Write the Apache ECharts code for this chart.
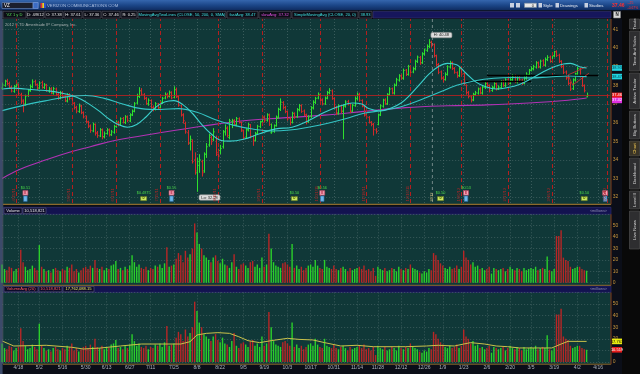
<!DOCTYPE html>
<html><head><meta charset="utf-8">
<script src="https://cdn.jsdelivr.net/npm/echarts/dist/echarts.min.js"></script>
<style>html,body{margin:0;padding:0;background:#0b0e18;}#c{width:640px;height:374px;}</style>
</head><body><div id="c"></div>
<script>
const FONT = '"Liberation Sans", Arial, sans-serif';
// ---------------- DATA ----------------
const holidays = ['2011-04-22','2011-05-30','2011-07-04','2011-09-05','2011-11-24','2011-12-26','2012-01-02','2012-01-16','2012-02-20','2012-04-06'];
const firstDay = '2011-04-07', lastAxisDay = '2012-04-23';
const opens = [37.85,38.00,38.25,38.08,37.90,37.68,37.95,38.05,37.50,37.20,
37.00,37.45,37.72,37.92,38.20,38.02,37.85,38.15,37.88,38.00,
37.70,37.82,37.58,37.80,37.52,37.30,37.60,37.42,37.15,37.48,
37.28,37.05,36.82,36.60,36.88,36.55,36.30,36.05,35.82,35.55,
35.90,35.45,35.28,35.60,35.25,35.42,35.60,35.35,35.48,35.80,
36.00,35.92,36.22,36.00,36.30,36.10,36.42,36.60,37.05,37.40,
37.72,37.50,37.30,37.00,37.18,36.80,36.72,37.00,36.80,37.08,
37.32,37.50,37.42,37.60,37.35,37.75,37.38,36.90,36.42,35.95,
35.45,34.90,35.00,34.00,33.30,33.70,33.90,33.40,34.30,34.80,
35.20,35.10,35.20,34.30,34.50,34.70,35.50,35.70,35.20,36.05,
36.12,35.88,36.20,36.00,35.55,35.22,35.60,35.88,35.25,35.05,
35.42,35.78,36.05,36.28,36.12,36.40,35.45,35.52,35.85,36.28,
36.70,37.08,36.82,36.58,36.22,36.02,36.48,36.32,36.68,36.92,
36.62,36.40,36.05,36.32,36.78,37.08,37.32,37.50,37.22,37.00,
37.32,37.60,37.70,37.28,36.82,36.50,36.88,36.62,36.88,37.12,
37.00,36.62,36.90,37.28,37.52,37.18,36.88,36.42,36.28,36.00,
35.92,35.60,35.90,36.42,36.88,37.22,37.00,37.52,37.82,37.58,
38.00,38.28,38.52,38.38,38.82,38.58,39.00,38.72,38.88,39.28,
39.50,39.22,39.68,39.88,40.08,40.32,40.20,39.58,39.12,38.72,
38.38,38.32,38.58,38.98,39.22,38.92,38.68,38.52,38.88,38.62,
38.00,37.62,37.38,37.22,37.52,37.58,37.82,37.58,37.88,38.12,
37.98,37.72,37.88,38.08,37.82,37.88,38.22,37.98,38.32,38.12,
38.28,38.52,38.18,38.42,38.28,38.12,38.38,38.58,38.82,38.88,
38.98,39.22,38.98,39.32,39.08,39.38,39.52,39.28,39.58,39.82,
39.62,39.28,39.02,38.72,38.42,38.12,37.82,38.28,38.62,38.88,
38.48,37.98,37.38];
const highs = [38.15,38.30,38.35,38.20,37.98,38.02,38.25,38.10,37.60,37.25,
37.50,37.80,38.05,38.32,38.30,38.10,38.22,38.25,38.12,38.08,
37.92,37.90,37.92,37.88,37.60,37.70,37.68,37.50,37.58,37.58,
37.35,37.10,36.90,37.02,36.95,36.60,36.38,36.10,35.90,36.00,
35.95,35.55,35.70,35.68,35.52,35.70,35.68,35.60,35.88,36.12,
36.10,36.28,36.30,36.40,36.38,36.50,36.70,37.10,37.55,37.90,
37.85,37.58,37.38,37.30,37.25,36.92,37.10,37.05,37.20,37.38,
37.62,37.60,37.72,37.68,37.95,37.88,37.45,36.98,36.50,36.05,
35.60,35.30,35.10,34.40,34.10,34.30,34.00,34.40,34.90,35.40,
35.30,35.70,35.30,34.60,34.80,35.60,35.90,35.80,36.20,36.20,
36.18,36.30,36.28,36.05,35.62,35.70,35.98,35.92,35.32,35.50,
35.88,36.10,36.40,36.35,36.50,36.48,35.95,35.90,36.38,36.80,
37.30,37.15,36.90,36.65,36.30,36.58,36.55,36.78,37.00,36.98,
36.70,36.48,36.40,36.88,37.20,37.38,37.62,37.58,37.30,37.40,
37.70,37.85,37.78,37.35,36.90,36.98,36.95,36.98,37.20,37.22,
37.05,37.00,37.40,37.62,37.60,37.25,36.95,36.50,36.35,36.08,
35.98,35.70,36.48,36.98,37.28,37.30,37.58,37.90,37.88,38.10,
38.40,38.60,38.60,38.90,38.88,39.10,39.08,38.98,39.38,39.60,
39.58,39.78,39.98,40.20,40.48,40.40,40.25,39.65,39.20,38.80,
38.50,38.70,39.08,39.32,39.28,38.98,38.75,38.98,38.95,38.70,
38.05,37.70,37.45,37.60,37.70,37.88,37.90,37.98,38.20,38.18,
38.05,37.98,38.20,38.15,38.00,38.28,38.30,38.38,38.40,38.40,
38.60,38.58,38.48,38.50,38.35,38.48,38.70,38.88,39.02,39.10,
39.30,39.28,39.38,39.40,39.50,39.62,39.60,39.70,39.85,39.88,
39.70,39.35,39.10,38.80,38.50,38.20,38.38,38.68,39.00,38.95,
38.55,38.05,37.61];
const lows = [37.75,37.92,38.00,37.80,37.62,37.60,37.88,37.45,37.00,36.55,
36.90,37.38,37.65,37.85,37.98,37.75,37.80,37.82,37.80,37.65,
37.60,37.52,37.50,37.42,37.22,37.25,37.30,37.10,37.08,37.20,
36.92,36.70,36.50,36.52,36.45,36.22,35.95,35.70,35.45,35.48,
35.30,35.18,35.22,35.10,35.15,35.35,35.25,35.28,35.40,35.72,
35.80,35.85,35.95,35.92,36.02,36.02,36.35,36.55,36.98,37.32,
37.45,37.22,36.95,36.90,36.75,36.60,36.65,36.70,36.72,37.00,
37.25,37.30,37.35,37.25,37.30,37.32,36.85,36.32,35.95,35.40,
34.80,34.50,33.80,33.20,32.28,33.30,33.10,33.30,34.10,34.70,
34.80,35.00,34.20,34.00,34.30,34.60,35.30,35.20,35.10,35.70,
35.82,35.80,35.95,35.50,35.10,35.15,35.52,35.15,34.75,34.98,
35.35,35.70,35.95,36.00,36.05,35.82,35.40,35.45,35.78,36.20,
36.62,36.70,36.50,36.10,35.85,35.95,36.20,36.25,36.60,36.52,
36.35,35.90,35.98,36.25,36.70,37.00,37.25,37.12,36.92,36.95,
37.25,37.52,37.22,36.72,36.40,36.42,36.50,35.10,36.80,36.92,
36.50,36.55,36.85,37.20,37.12,36.82,36.32,36.18,35.95,35.80,
35.30,35.40,35.85,36.35,36.80,36.95,36.95,37.45,37.52,37.50,
37.95,38.20,38.30,38.30,38.50,38.52,38.62,38.65,38.80,39.20,
39.10,39.15,39.60,39.80,40.00,40.02,39.50,39.00,38.60,38.30,
38.15,38.25,38.52,38.90,38.82,38.62,38.40,38.45,38.52,38.00,
37.50,37.30,37.08,37.15,37.45,37.50,37.52,37.50,37.80,37.90,
37.62,37.65,37.80,37.72,37.75,37.82,37.92,37.90,38.02,38.05,
38.20,38.12,38.10,38.22,38.02,38.05,38.30,38.50,38.75,38.80,
38.90,38.92,38.90,39.02,39.00,39.30,39.22,39.20,39.50,39.52,
39.20,38.92,38.60,38.30,38.00,37.70,37.75,38.20,38.55,38.42,
37.92,37.62,37.36];
const closes = [38.02,38.21,38.10,37.88,37.70,37.93,38.12,37.55,37.12,36.95,
37.42,37.70,37.95,38.18,38.05,37.86,38.12,37.90,38.03,37.72,
37.80,37.60,37.82,37.50,37.31,37.58,37.40,37.18,37.47,37.30,
37.02,36.80,36.62,36.90,36.52,36.31,36.02,35.80,35.58,35.91,
35.42,35.30,35.62,35.22,35.40,35.61,35.33,35.50,35.78,36.02,
35.90,36.20,36.02,36.31,36.12,36.40,36.62,37.01,37.42,37.70,
37.52,37.31,37.02,37.20,36.82,36.70,37.01,36.78,37.10,37.30,
37.52,37.40,37.63,37.32,37.78,37.40,36.92,36.40,36.10,35.50,
34.90,35.10,33.90,33.40,33.90,34.00,33.30,34.30,34.70,35.30,
35.00,35.50,34.40,34.20,34.60,35.50,35.70,35.30,36.10,36.10,
35.90,36.21,36.02,35.60,35.20,35.62,35.90,35.28,35.02,35.40,
35.80,36.02,36.30,36.10,36.42,35.90,35.50,35.82,36.30,36.72,
37.10,36.80,36.60,36.20,36.00,36.50,36.30,36.70,36.90,36.60,
36.42,36.02,36.30,36.80,37.10,37.30,37.52,37.20,37.02,37.30,
37.62,37.72,37.30,36.80,36.52,36.90,36.60,36.90,37.10,37.02,
36.60,36.92,37.30,37.50,37.20,36.90,36.40,36.30,36.02,35.90,
35.62,35.52,36.40,36.90,37.20,37.02,37.50,37.80,37.60,38.02,
38.30,38.50,38.40,38.80,38.60,39.02,38.70,38.90,39.30,39.52,
39.20,39.70,39.90,40.10,40.30,40.12,39.60,39.10,38.70,38.40,
38.30,38.60,39.00,39.20,38.90,38.70,38.50,38.90,38.60,38.10,
37.60,37.40,37.20,37.50,37.60,37.80,37.60,37.90,38.10,38.00,
37.70,37.90,38.10,37.80,37.90,38.20,38.00,38.30,38.10,38.30,
38.50,38.20,38.40,38.30,38.10,38.40,38.60,38.80,38.90,39.00,
39.20,39.00,39.30,39.10,39.40,39.50,39.30,39.60,39.80,39.60,
39.30,39.00,38.70,38.40,38.10,37.80,38.30,38.60,38.90,38.50,
38.00,37.71,37.46];
const volumes = [16,12,11,14,13,10,12,13,29,18,
14,11,12,15,13,11,33,14,12,10,
11,9,12,13,11,10,12,11,14,13,
16,10,12,9,11,13,14,12,15,13,
20,13,12,14,11,13,12,15,16,19,
12,13,11,14,12,15,24,18,14,16,
13,12,14,11,13,12,15,14,16,13,
17,31,14,15,16,21,26,24,18,28,
22,25,30,52,44,34,30,24,22,20,
18,22,24,19,17,21,16,15,13,18,
25,14,12,16,17,15,13,18,19,14,
16,13,22,14,16,43,30,18,15,14,
13,17,18,16,14,34,13,15,12,14,
11,13,15,16,14,20,15,13,12,20,
14,13,12,15,12,11,13,14,12,10,
13,11,12,13,14,12,15,11,12,10,
13,6,14,12,11,13,10,11,13,12,
10,14,12,11,13,12,16,13,12,11,
9,8,10,9,12,11,26,24,20,17,
15,13,12,14,12,13,15,12,14,28,
22,20,16,18,14,15,12,13,11,12,
14,8,13,12,11,12,13,10,12,14,
12,11,13,12,10,13,11,12,13,12,
14,11,12,13,12,23,11,10,12,41,
41,46,22,20,19,14,12,13,14,14,
12,11,10.52];
// moving averages: [bar index, value]
const sma20Pts = [[0,37.8],[5,37.85],[10,37.8],[15,37.75],[20,37.7],[25,37.6],[30,37.45],[34,37.25],[38,36.95],[42,36.6],[46,36.2],[50,35.9],[54,35.75],[58,35.9],[62,36.3],[66,36.8],[70,37.1],[74,37.18],[78,36.95],[82,36.5],[86,35.9],[90,35.4],[94,35.05],[98,35.0],[104,35.1],[111,35.4],[118,35.66],[125,35.75],[132,36.1],[139,36.55],[146,36.9],[151,37.05],[155,37.0],[158,36.75],[163,36.62],[168,36.8],[172,37.05],[176,37.5],[180,38.05],[184,38.6],[188,39.0],[192,39.18],[196,39.1],[200,38.65],[204,38.2],[208,37.95],[213,37.8],[218,37.88],[223,38.05],[228,38.35],[233,38.7],[238,39.0],[242,39.15],[245,39.18],[249,39.0],[252,38.93]];
const sma50Pts = [[0,36.64],[10,36.95],[20,37.2],[30,37.42],[36,37.45],[44,37.3],[52,37.0],[60,36.75],[68,36.7],[76,36.75],[84,36.55],[92,36.15],[100,35.85],[108,35.65],[116,35.55],[124,35.6],[132,35.75],[140,35.95],[148,36.2],[156,36.5],[164,36.65],[172,36.85],[180,37.2],[188,37.6],[196,38.0],[204,38.25],[212,38.38],[220,38.42],[228,38.4],[236,38.45],[244,38.5],[252,38.47]];
const sma200Pts = [[0,33.0],[8,33.5],[19,34.0],[29,34.4],[38,34.7],[49,35.05],[68,35.45],[86,35.8],[104,36.1],[121,36.25],[139,36.4],[156,36.6],[174,36.8],[192,36.9],[209,36.95],[227,37.05],[244,37.2],[252,37.32]];
const volAvgPts = [[0,18.1],[5,13.8],[19,14.4],[30,12.7],[35,11.2],[42,12.0],[51,13.8],[60,15.5],[68,15.5],[77,15.5],[81,17.5],[84,23.3],[88,24.7],[93,25.3],[98,24.7],[102,21.8],[106,18.4],[111,16.7],[116,18.4],[123,20.4],[128,19.5],[134,19.0],[139,16.7],[146,13.8],[153,14.4],[160,13.2],[174,13.2],[183,13.8],[188,14.4],[195,13.8],[199,15.5],[202,16.7],[208,15.5],[213,13.8],[218,13.2],[223,12.1],[232,12.1],[237,12.1],[241,15.5],[244,17.8],[252,17.76]];
const tickDates = ['2011-04-18','2011-05-02','2011-05-16','2011-05-30','2011-06-13','2011-06-27','2011-07-11','2011-07-25','2011-08-08','2011-08-22','2011-09-05','2011-09-19','2011-10-03','2011-10-17','2011-10-31','2011-11-14','2011-11-28','2011-12-12','2011-12-26','2012-01-09','2012-01-23','2012-02-06','2012-02-20','2012-03-05','2012-03-19','2012-04-02','2012-04-16'];
const expiryDates = ['2011-04-15','2011-05-20','2011-06-17','2011-07-15','2011-08-19','2011-09-16','2011-10-21','2011-11-18','2011-12-16','2012-01-20','2012-02-17','2012-03-16','2012-04-20'];
const earningsDates = ['2011-04-21','2011-07-22','2011-10-24','2012-01-24','2012-04-19'];
const earningsText = ['$0.51','$0.55','$0.56','$0.53',''];
const dividendDates = ['2011-07-06','2011-10-06','2012-01-06','2012-04-05'];
const dividendText = ['$0.4875','$0.50','$0.50','$0.50'];
const lastPrice = 37.46, fastAvg = 38.47, slowAvg = 37.32, sma20Last = 38.93;
const volAvgLast = 17.763, volLast = 10.519;
const highMark = {date:'2011-12-29', value:40.48}, lowMark = {date:'2011-08-08', value:32.28};
const drawLinesBlack = [[['2012-01-24',38.24],['2012-03-05',38.24]],[['2012-02-06',38.56],['2012-04-16',38.56]]];
const drawLinesRed = [[['2012-03-27',38.56],['2012-04-09',39.0]],[['2012-03-29',38.02],['2012-04-10',38.65]],[['2012-03-27',38.56],['2012-03-29',38.02]]];

// ---------------- BUILD ----------------
const dates = [];
{ let d = new Date(firstDay + 'T00:00:00Z'); const end = new Date(lastAxisDay + 'T00:00:00Z');
  while (d <= end) { const wd = d.getUTCDay(); const s = d.toISOString().slice(0,10);
    if (wd !== 0 && wd !== 6 && holidays.indexOf(s) < 0) dates.push(s);
    d = new Date(d.getTime() + 86400000); } }
const idxOf = s => { for (let i = 0; i < dates.length; i++) if (dates[i] >= s) return i; return dates.length - 1; };
const md = s => (+s.slice(5,7)) + '/' + (+s.slice(8,10));
const mdy = s => md(s) + '/' + s.slice(2,4);
const tickText = {}; tickDates.forEach(t => { tickText[idxOf(t)] = md(t); });
const isTick = i => tickText[i] !== undefined;

const GREEN = '#2ee02e', RED = '#d22a2a', VGREEN = '#2bcf2b', VRED = '#b82626';
const PANEL = '#103838', GRIDC = '#4c6a6a', AXC = '#c8963c';
const ohlc = closes.map((c, i) => [i, opens[i], highs[i], lows[i], c]);
const volData = volumes.map((v, i) => ({ value: v, itemStyle: { color: closes[i] >= opens[i] ? VGREEN : VRED } }));

const GL = 2.2, GR = 30.2;
function xAx(g, labels) {
  return { type: 'category', gridIndex: g, data: dates, boundaryGap: false,
    axisLine: { show: false }, axisTick: { show: false },
    axisLabel: { show: labels, interval: (i) => isTick(i), formatter: (v, i) => tickText[i] || '',
      color: '#aab2ba', fontSize: 5, fontFamily: FONT, margin: 3 },
    splitLine: { show: g !== 1, interval: (i) => isTick(i), lineStyle: { color: GRIDC, type: [1, 2], width: 0.7 } } };
}
function yAx(g, min, max, show) {
  return { type: 'value', gridIndex: g, min, max, interval: show ? 10 : undefined, position: 'right',
    axisLine: { show: false }, axisTick: { show: false },
    axisLabel: { show, color: AXC, fontSize: 5, fontFamily: FONT, margin: 3, showMaxLabel: false },
    splitLine: { show, lineStyle: { color: GRIDC, type: [1, 2], width: 0.7 } } };
}
const mk = (pts) => pts.map(p => ({ coord: [idxOf(p[0]), p[1]] }));
const markData = [].concat(
  expiryDates.map(d => ({ xAxis: idxOf(d), lineStyle: { color: '#b41e1e', type: [4, 3], width: 1 } })),
  [{ yAxis: lastPrice, lineStyle: { color: '#c42020', type: 'solid', width: 0.8 } }],
  drawLinesBlack.map(l => mk(l).map(o => Object.assign(o, { lineStyle: { color: '#000000', type: 'solid', width: 1.3 } }))),
  drawLinesRed.map(l => mk(l).map(o => Object.assign(o, { lineStyle: { color: '#d83030', type: 'solid', width: 0.8 } })))
);

const option = {
  animation: false, backgroundColor: '#0b0e18',
  grid: [
    { left: GL, right: GR, top: 19, height: 184 },
    { left: GL, right: GR, top: 29.5, height: 167.5 },
    { left: GL, right: GR, top: 214.3, height: 68.4 },
    { left: GL, right: GR, top: 292.4, height: 69.6 }
  ],
  xAxis: [xAx(0, false), Object.assign(xAx(1, false), { show: false }), xAx(2, false), xAx(3, true)],
  yAxis: [
    { type: 'value', gridIndex: 0, min: 31.678, max: 41.564, show: false, splitLine: { show: false } },
    Object.assign(yAx(1, 32, 41, true), { interval: 1, axisLabel: { color: AXC, fontSize: 5, fontFamily: FONT, margin: 3 } }),
    yAx(2, 0, 60, true),
    yAx(3, 0, 60, true)
  ],
  series: [
    { type: 'line', name: 'sma200', xAxisIndex: 0, yAxisIndex: 0, data: sma200Pts, smooth: 0.4, symbol: 'none',
      lineStyle: { color: '#b232b4', width: 1.1 }, z: 3,
      markLine: { silent: true, symbol: ['none', 'none'], label: { show: false }, data: markData } },
    { type: 'custom', name: 'ohlc', xAxisIndex: 0, yAxisIndex: 0, data: ohlc, z: 4,
      encode: { x: 0, y: [1, 2, 3, 4] },
      renderItem: (params, api) => {
        const i = api.value(0), o = api.value(1), h = api.value(2), l = api.value(3), c = api.value(4);
        const pH = api.coord([i, h]), pL = api.coord([i, l]), pO = api.coord([i, o]), pC = api.coord([i, c]);
        const x = Math.round(pH[0]) + 0.5;
        const col = c >= o ? GREEN : RED;
        const st = { stroke: col, lineWidth: 1 };
        return { type: 'group', children: [
          { type: 'line', shape: { x1: x, y1: pH[1], x2: x, y2: pL[1] }, style: st },
          { type: 'line', shape: { x1: x - 1.2, y1: pO[1], x2: x, y2: pO[1] }, style: st },
          { type: 'line', shape: { x1: x, y1: pC[1], x2: x + 1.2, y2: pC[1] }, style: st } ] };
      } },
    { type: 'line', name: 'sma50', xAxisIndex: 0, yAxisIndex: 0, data: sma50Pts, smooth: 0.4, symbol: 'none',
      lineStyle: { color: '#34c4c4', width: 1.1 }, z: 5 },
    { type: 'line', name: 'sma20', xAxisIndex: 0, yAxisIndex: 0, data: sma20Pts, smooth: 0.4, symbol: 'none',
      lineStyle: { color: '#3ad0cc', width: 1.1 }, z: 5 },
    { type: 'bar', xAxisIndex: 2, yAxisIndex: 2, data: volData, barWidth: 1.4, z: 3 },
    { type: 'bar', xAxisIndex: 3, yAxisIndex: 3, data: volData, barWidth: 1.4, z: 3 },
    { type: 'line', xAxisIndex: 3, yAxisIndex: 3, data: volAvgPts, symbol: 'none', lineStyle: { color: '#c9c24a', width: 1 }, z: 5 }
  ]
};
const chart = echarts.init(document.getElementById('c'), null, { renderer: 'canvas', width: 640, height: 374 });
chart.setOption(option);

// ---------------- DECORATION ----------------
const px = i => chart.convertToPixel({ xAxisIndex: 0 }, i);
const py = v => chart.convertToPixel({ yAxisIndex: 0 }, v);
const pyA = v => chart.convertToPixel({ yAxisIndex: 3 }, v);
const G = [];
const rect = (x, y, w, h, fill, stroke, z, extra) => G.push(Object.assign({ type: 'rect', shape: { x, y, width: w, height: h }, style: { fill, stroke: stroke || null, lineWidth: 0.6 }, z: z == null ? -10 : z, silent: true }, extra || {}));
const text = (x, y, t, fill, size, align, z, rot, weight) => G.push({ type: 'text', x, y, rotation: rot || 0, z: z == null ? 50 : z, silent: true,
  style: { text: t, fill, font: (weight || 'normal') + ' ' + size + 'px ' + FONT, align: align || 'left', verticalAlign: 'middle', textAlign: align || 'left', textVerticalAlign: 'middle' } });
const line = (x1, y1, x2, y2, stroke, w, dash, z) => G.push({ type: 'line', shape: { x1, y1, x2, y2 }, style: { stroke, lineWidth: w, lineDash: dash || null }, z: z == null ? 1 : z, silent: true });

// top header
G.push({ type: 'rect', shape: { x: 0, y: 0, width: 640, height: 10.5 }, z: -10, silent: true,
  style: { fill: new echarts.graphic.LinearGradient(0, 0, 0, 1, [{ offset: 0, color: '#3566ae' }, { offset: 0.5, color: '#1c4688' }, { offset: 1, color: '#0e2a5e' }]) } });
rect(2, 2.5, 31, 6, '#1b1f2e', '#6d8cc0', 1);
text(4, 5.6, 'VZ', '#ffffff', 4.5, 'left');
rect(33.2, 2.5, 5, 6, '#3c6cc4', '#86a6e0', 1);
rect(40.5, 3, 1.8, 5, '#e03030', null, 1); rect(42.3, 3, 1.8, 5, '#f0d020', null, 1); rect(44.1, 3, 1.8, 5, '#3050d0', null, 1);
text(47, 5.8, 'VERIZON COMMUNICATIONS COM', '#a8bce0', 4.3, 'left');
rect(510, 3, 4, 4.5, '#c8d0e0', null, 1); rect(516, 3, 4, 4.5, '#c8d0e0', null, 1);
rect(524.5, 3.2, 12, 4.2, '#e8e8e8', '#8090a0', 1); text(534, 5.4, '0', '#202020', 4, 'right');
rect(538.5, 3, 3.5, 4.5, '#c8d0e0', null, 1); text(543, 5.4, 'Style', '#e8ecf4', 4.3, 'left');
rect(555.5, 3, 3.5, 4.5, '#c8d0e0', null, 1); text(560, 5.4, 'Drawings', '#e8ecf4', 4.3, 'left');
rect(584.5, 3, 3.5, 4.5, '#c8d0e0', null, 1); text(589, 5.4, 'Studies', '#e8ecf4', 4.3, 'left');
text(612, 5.6, '37.46', '#ff3030', 5, 'left', 50, 0, 'bold');
text(627.5, 3.4, '-.25', '#ff3030', 3.4, 'left'); text(627.5, 7.6, '-0.67%', '#ff3030', 3.4, 'left');

// status line
rect(0, 10.5, 640, 8.5, '#05060c');
const boxes = [[3, 23, 'VZ 1 y D', '#58e058'], [27, 17, 'D: 4/9/12', '#e8e8e8'], [45, 18, 'O: 37.38', '#e8e8e8'], [64, 18, 'H: 37.61', '#e8e8e8'],
  [83, 18, 'L: 37.36', '#e8e8e8'], [102, 18, 'C: 37.46', '#e8e8e8'], [121, 16, 'R: 0.25', '#e8e8e8'],
  [138, 88, 'MovingAvgTwoLines (CLOSE, 50, 200, 0, SMA)', '#3ee0e0'], [227, 31, 'fastAvg: 38.47', '#3ee0e0'], [259, 32, 'slowAvg: 37.32', '#e050e0'],
  [292, 66, 'SimpleMovingAvg (CLOSE, 20, 0)', '#3ee0e0'], [359, 13, '38.93', '#3ee0e0']];
boxes.forEach(b => { rect(b[0], 11.3, b[1], 6.8, '#0c0d16', '#5a5a6a', 1); text(b[0] + b[1] / 2, 14.8, b[2], b[3], 4.1, 'center'); });
rect(373, 11.3, 238, 6.8, '#16165c', '#3a3a70', 1);
rect(613.5, 11.5, 7, 6.5, '#d8d8d8', '#808080', 1); text(617, 14.9, 'N', '#202020', 4.5, 'center', 51, 0, 'bold');

// left strip & right strip
rect(0, 10.5, 2.6, 364, '#3c4a6a');
rect(622, 10.5, 18, 364, '#090909');
const tabs = [[19, 29, 'Trade'], [31, 71, 'Time And Sales'], [73, 109, 'Active Trader'], [111, 139, 'Big Buttons'], [141, 156, 'Chart'], [158, 189, 'Dashboard'], [191, 209, 'Level II'], [211, 249, 'Live News']];
tabs.forEach(t => { rect(629.5, t[0], 10, t[1] - t[0], t[2] === 'Chart' ? '#3a3426' : '#2e2e30', '#555', 1);
  text(634.5, (t[0] + t[1]) / 2, t[2], t[2] === 'Chart' ? '#e8c050' : '#d0d0d0', 4.3, 'center', 51, Math.PI / 2); });

// panels
rect(3, 19, 608, 185, PANEL);
rect(3, 207.3, 608, 7, '#131350', '#34347a', -9);
rect(3, 214.3, 608, 70.7, PANEL);
rect(3, 285.8, 608, 6.6, '#131350', '#34347a', -9);
rect(3, 292.4, 608, 71.4, PANEL);
line(3, 204.3, 611, 204.3, '#8c6a2c', 1.2, null, 6); line(611, 19, 611, 204.3, '#7a3a1c', 1.1, null, 6);
line(3, 285.3, 611, 285.3, '#8c6a2c', 1.0, null, 6); line(611, 214.3, 611, 285.3, '#7a3a1c', 1.1, null, 6);
line(3, 364.2, 611, 364.2, '#8c6a2c', 1.0, null, 6); line(611, 292.4, 611, 364.2, '#7a3a1c', 1.1, null, 6);
line(2.8, 19, 2.8, 364, '#506070', 0.8, null, 6);
text(5, 24.5, '2012 \u00A9 TD Ameritrade IP Company, Inc.', '#a8b0b0', 4, 'left');

// panel header bands
rect(4, 208, 18, 5.6, '#0c0c2a', '#5a5a80', -8); text(13, 210.9, 'Volume', '#e8e8e8', 4.1, 'center');
rect(23, 208, 23, 5.6, '#0c0c2a', '#5a5a80', -8); text(34.5, 210.9, '10,518,821', '#e8e8e8', 4.1, 'center');
text(607, 210.9, '<millions>', '#8c8cb0', 3.8, 'right');
rect(4, 286.4, 34, 5.4, '#0c0c2a', '#5a5a80', -8); text(21, 289.2, 'VolumeAvg (20)', '#ff5a5a', 4.1, 'center');
rect(39, 286.4, 23, 5.4, '#0c0c2a', '#5a5a80', -8); text(50.5, 289.2, '10,518,821', '#ff5a5a', 4.1, 'center');
rect(63, 286.4, 31, 5.4, '#0c0c2a', '#5a5a80', -8); text(78.5, 289.2, '17,762,088.15', '#ecec60', 4.1, 'center');
text(607, 289.2, '<millions>', '#8c8cb0', 3.8, 'right');

// year divider
const yx = (px(idxOf('2011-12-30')) + px(idxOf('2012-01-03'))) / 2;
line(yx, 19, yx, 204, '#8c9c9c', 0.8, [3, 3], 2);
text(yx - 1, 201.5, '2012', '#c8b878', 4.1, 'left', 50, Math.PI / 2);
// expiry labels
expiryDates.forEach(d => { const x = px(idxOf(d)); text(x - 2.6, 201.5, mdy(d), '#a82626', 4.1, 'left', 50, Math.PI / 2); });
// earnings & dividends
earningsDates.forEach((d, k) => { const x = px(idxOf(d));
  rect(x - 2.5, 190.6, 5, 4.6, '#f2a6b6', '#c04060', 20); text(x, 192.9, 'E', '#b02040', 3.2, 'center', 21, 0, 'bold');
  rect(x - 1.8, 196, 3.6, 5.4, '#6cb8ec', '#2c6ca4', 20);
  if (earningsText[k]) text(x, 188.2, earningsText[k], '#48d848', 3.8, 'center'); });
dividendDates.forEach((d, k) => { const x = px(idxOf(d));
  rect(x - 3, 196.6, 6, 4, '#c8e860', '#708020', 20); text(x, 198.6, 'D', '#405000', 3, 'center', 21, 0, 'bold');
  text(x, 193.2, dividendText[k], '#48d848', 3.8, 'center'); });
// high / low callouts
{ const hx = px(idxOf(highMark.date)), hy = py(highMark.value);
  rect(hx + 2, hy - 6.8, 21, 5.4, '#dcdcdc', '#909090', 20, { shape: { x: hx + 2, y: hy - 6.8, width: 21, height: 5.4, r: 1.5 } });
  text(hx + 12.5, hy - 4.1, 'H: ' + highMark.value.toFixed(2), '#202020', 4, 'center', 21);
  const lx = px(idxOf(lowMark.date)), ly = py(lowMark.value);
  rect(lx + 2, ly + 3, 21, 5.4, '#dcdcdc', '#909090', 20, { shape: { x: lx + 2, y: ly + 3, width: 21, height: 5.4, r: 1.5 } });
  text(lx + 12.5, ly + 5.7, 'Lo: ' + lowMark.value.toFixed(2), '#202020', 4, 'center', 21); }
// right axis value boxes
const tag = (y, t, bg, fg) => { rect(612, y - 2.8, 10, 5.6, bg, null, 30); text(617, y, t, fg, 4, 'center', 31); };
tag(py(sma20Last), sma20Last.toFixed(2), '#22d4e0', '#003848');
tag(py(fastAvg), fastAvg.toFixed(2), '#22d4e0', '#003848');
const ry = py(lastPrice); tag(ry, lastPrice.toFixed(2), '#e81c1c', '#ffffff');
tag(Math.max(py(slowAvg), ry + 5), slowAvg.toFixed(2), '#e030e0', '#ffffff');
tag(pyA(volAvgLast), volAvgLast.toFixed(3), '#ecec10', '#202000');
tag(pyA(volLast), volLast.toFixed(3), '#e81c1c', '#ffffff');

chart.setOption({ graphic: { elements: G } });
</script>
</body></html>
